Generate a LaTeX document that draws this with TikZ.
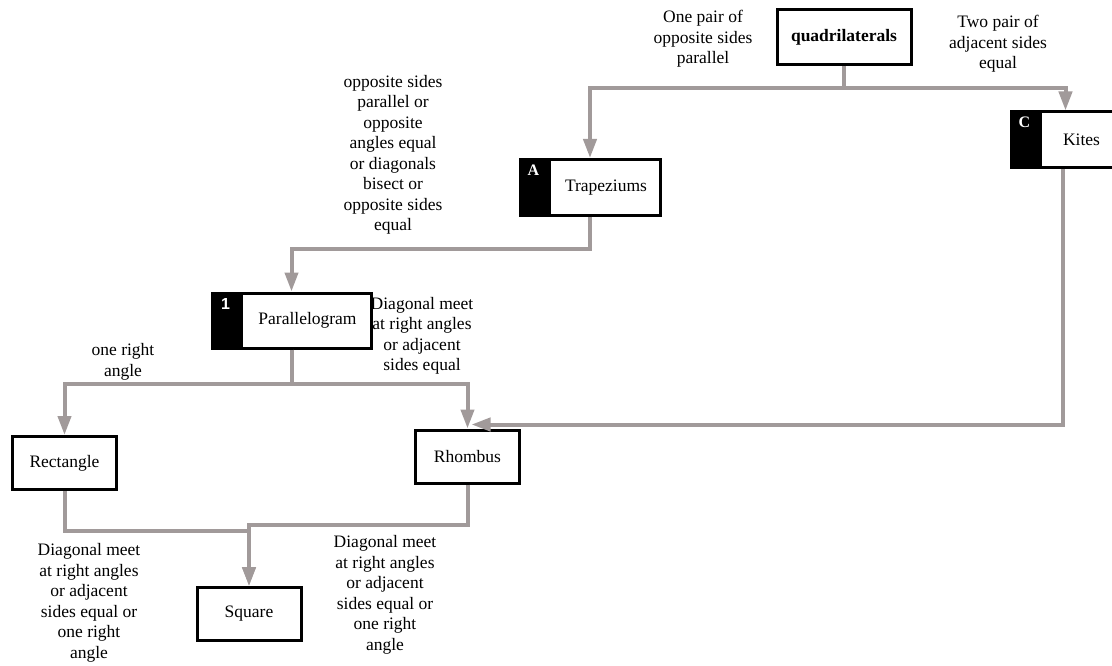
\documentclass[tikz,border=0pt]{standalone}
\usepackage{fontspec}
\setmainfont{Liberation Serif}
\newfontfamily\tagsans{Liberation Sans}
\usepackage{tikz}
\usetikzlibrary{arrows.meta,calc}
\definecolor{linkgray}{RGB}{161,154,154}

\begin{document}
\begin{tikzpicture}[x=1pt,y=-1pt,
  figbox/.style={draw, line width=3pt, fill=white, minimum height=55pt, inner sep=0pt, align=center, font=\fontsize{17.5}{20.5}\selectfont},
  tagtext/.style={text=white, inner sep=0pt, font=\fontsize{16}{16}\selectfont\bfseries},
  flow/.style={draw=linkgray, line width=4pt, -{Triangle[length=19pt,width=13pt]}},
  note/.style={align=center, inner sep=0pt, font=\fontsize{17.5}{20.5}\selectfont}
]
\path[use as bounding box] (0,0) rectangle (1112,666);

% conditions
\node[note] (oneLbl) at (703,39) {One pair of\\opposite sides\\parallel};
\node[note] (twoLbl) at (998,44) {Two pair of\\adjacent sides\\equal};
\node[note] (paraLbl) at (393,155) {opposite sides\\parallel or\\opposite\\angles equal\\or diagonals\\bisect or\\opposite sides\\equal};
\node[note] (rhombLbl) at (422,336) {Diagonal meet\\at right angles\\or adjacent\\sides equal};
\node[note] (rectLbl) at (123,362) {one right\\angle};
\node[note] (sqLeftLbl) at (89,603) {Diagonal meet\\at right angles\\or adjacent\\sides equal or\\one right\\angle};
\node[note] (sqRightLbl) at (385,595) {Diagonal meet\\at right angles\\or adjacent\\sides equal or\\one right\\angle};

% quadrilaterals
\node[figbox, minimum width=134pt] (quad) at (844,37.5) {\bfseries quadrilaterals};
% trapeziums
\node[figbox, minimum width=140pt, minimum height=56pt] (trap) at (590,187.5) {\hspace*{32pt}Trapeziums};
% kites
\node[figbox, minimum width=109pt, minimum height=56pt] (kites) at (1065.5,140) {\hspace*{32pt}Kites};
% parallelogram
\node[figbox, minimum width=159pt] (para) at (291.5,320.5) {\hspace*{32pt}Parallelogram};
% rectangle, rhombus, square
\node[figbox, minimum width=104pt, minimum height=53pt] (rect) at (64.5,463) {Rectangle};
\node[figbox, minimum width=104pt, minimum height=53pt] (rhomb) at (467.5,456.5) {Rhombus};
\node[figbox, minimum width=104pt, minimum height=53pt] (sq) at (249,614) {Square};

% black tabs
\foreach \b/\t in {trap/A, kites/C, para/{\tagsans 1}}{
  \fill (\b.north west) rectangle ($(\b.south west)+(32,0)$);
  \node[tagtext] (\b Tag) at ($(\b.north west)+(15,12)$) {\t};
}

\draw[flow] (quad.south) -- ++(0,22) -| (trap.north);
\draw[flow] (quad.south) -- ++(0,22) -| (kites.north);
\draw[flow] (trap.south) -- ++(0,32) -| (para.north);
\draw[flow] (para.south) -- ++(0,34) -| (rect.north);
\draw[flow] (para.south) -- ++(0,34) -| (rhomb.north);
\draw[flow] ([xshift=-3pt]kites.south) |- ([xshift=4pt,yshift=4pt]rhomb.north);
\draw[flow] (rect.south) -- ++(0,40) -| (sq.north);
\draw[flow] (rhomb.south) -- ++(0,40) -| (sq.north);
\end{tikzpicture}
\end{document}
